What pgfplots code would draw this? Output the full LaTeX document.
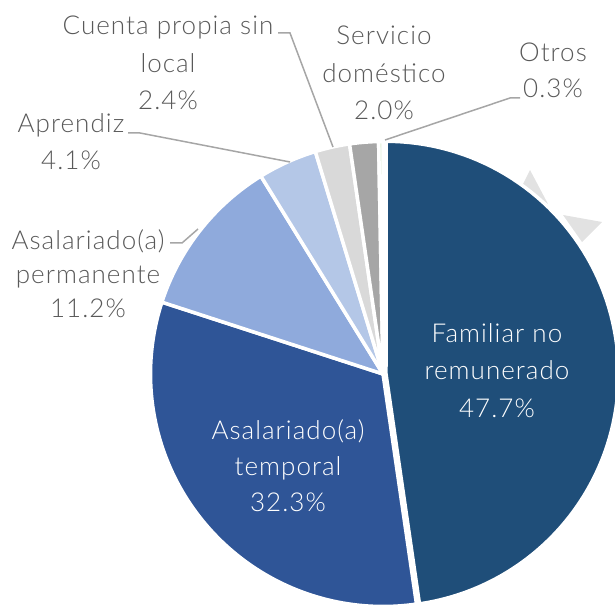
\documentclass[border=0pt]{standalone}
\usepackage{pgfplots}
\usepackage{pgfplotstable}
\pgfplotsset{compat=1.18}
\usepackage{fontspec}
\setmainfont{Lato}[UprightFont=* Light, LetterSpace=4]
\definecolor{cA}{HTML}{1F4E79}
\definecolor{cB}{HTML}{2F5597}
\definecolor{cC}{HTML}{8FAADC}
\definecolor{cD}{HTML}{B4C7E7}
\definecolor{cE}{HTML}{D9D9D9}
\definecolor{cF}{HTML}{A6A6A6}
\definecolor{cG}{HTML}{E2F0D9}
\definecolor{txt}{HTML}{595959}
\definecolor{lead}{HTML}{A6A6A6}
\definecolor{shd}{HTML}{E2E2E2}

\pgfplotstableread{
value col ex
47.7 cA 3
32.3 cB 0
11.2 cC 0
4.1 cD 0
2.4 cE 0
2.0 cF 0
0.3 cG 0
}\piedata

\begin{document}
\begin{tikzpicture}
\begin{axis}[
  width=615bp, height=606bp, scale only axis,
  xmin=0, xmax=615, ymin=0, ymax=606,
  hide axis,
]
% faint shadow artefacts at the right edge
\fill[shd] (axis cs:530,436) -- (axis cs:522,420) -- (axis cs:548,402) -- cycle;
\fill[shd] (axis cs:563,391) -- (axis cs:602,384) -- (axis cs:582,364) -- cycle;

\pgfplotstablegetrowsof{\piedata}
\pgfmathtruncatemacro\N{\pgfplotsretval-1}
\def\cum{0}
\pgfplotsforeachungrouped \i in {0,...,\N}{%
  \pgfplotstablegetelem{\i}{value}\of\piedata \let\v\pgfplotsretval
  \pgfplotstablegetelem{\i}{col}\of\piedata \let\c\pgfplotsretval
  \pgfplotstablegetelem{\i}{ex}\of\piedata \let\e\pgfplotsretval
  \pgfmathsetmacro\sa{90-3.6*\cum}%
  \pgfmathsetmacro\ea{90-3.6*(\cum+\v)}%
  \pgfmathsetmacro\ma{(\sa+\ea)/2}%
  \pgfmathsetmacro\cx{383+\e*cos(\ma)}%
  \pgfmathsetmacro\cy{232+\e*sin(\ma)}%
  \pgfmathsetmacro\cum{\cum+\v}%
  \edef\temp{\noexpand\addplot[fill=\c, draw=white, line width=3.5bp, line join=round, domain=\ea:\sa, samples=90, variable=\noexpand\t]
    ({\cx+232.5*cos(\noexpand\t)},{\cy+232.5*sin(\noexpand\t)}) -- (axis cs:\cx,\cy) -- cycle;}%
  \temp
}

% leader lines
\draw[lead, line width=1.5bp] (axis cs:278,573) -- (axis cs:290,573) -- (axis cs:333,459);
\draw[lead, line width=1.5bp] (axis cs:128,473) -- (axis cs:140,473) -- (axis cs:290,444);
\draw[lead, line width=1.5bp] (axis cs:520,508) -- (axis cs:510,508) -- (axis cs:385,466);
\draw[lead, line width=1.5bp] (axis cs:170,363) -- (axis cs:182,363) -- (axis cs:198,377);

% labels
\tikzset{lb/.style={anchor=base, inner sep=0pt, text=txt, font=\fontsize{26bp}{36bp}\selectfont},
         lw/.style={anchor=base, inner sep=0pt, text=white, font=\fontsize{26bp}{36bp}\selectfont}}
\node[lb] at (axis cs:168,571) {Cuenta propia sin};
\node[lb] at (axis cs:168,533) {local};
\node[lb] at (axis cs:168,496) {2.4\%};
\node[lb] at (axis cs:71,473) {Aprendiz};
\node[lb] at (axis cs:71,436) {4.1\%};
\node[lb] at (axis cs:384,561) {Servicio};
\node[lb] at (axis cs:384,523) {doméstico};
\node[lb] at (axis cs:384,486) {2.0\%};
\node[lb] at (axis cs:553,544) {Otros};
\node[lb] at (axis cs:553,508) {0.3\%};
\node[lb] at (axis cs:88,356) {Asalariado(a)};
\node[lb] at (axis cs:88,322) {permanente};
\node[lb] at (axis cs:88,288) {11.2\%};
\node[lw] at (axis cs:497,263) {Familiar no};
\node[lw] at (axis cs:497,226) {remunerado};
\node[lw] at (axis cs:497,188) {47.7\%};
\node[lw] at (axis cs:288,166) {Asalariado(a)};
\node[lw] at (axis cs:288,130) {temporal};
\node[lw] at (axis cs:288,94) {32.3\%};
\end{axis}
\pgfresetboundingbox
\path (current axis.south west) rectangle (current axis.north east);
\end{tikzpicture}
\end{document}
